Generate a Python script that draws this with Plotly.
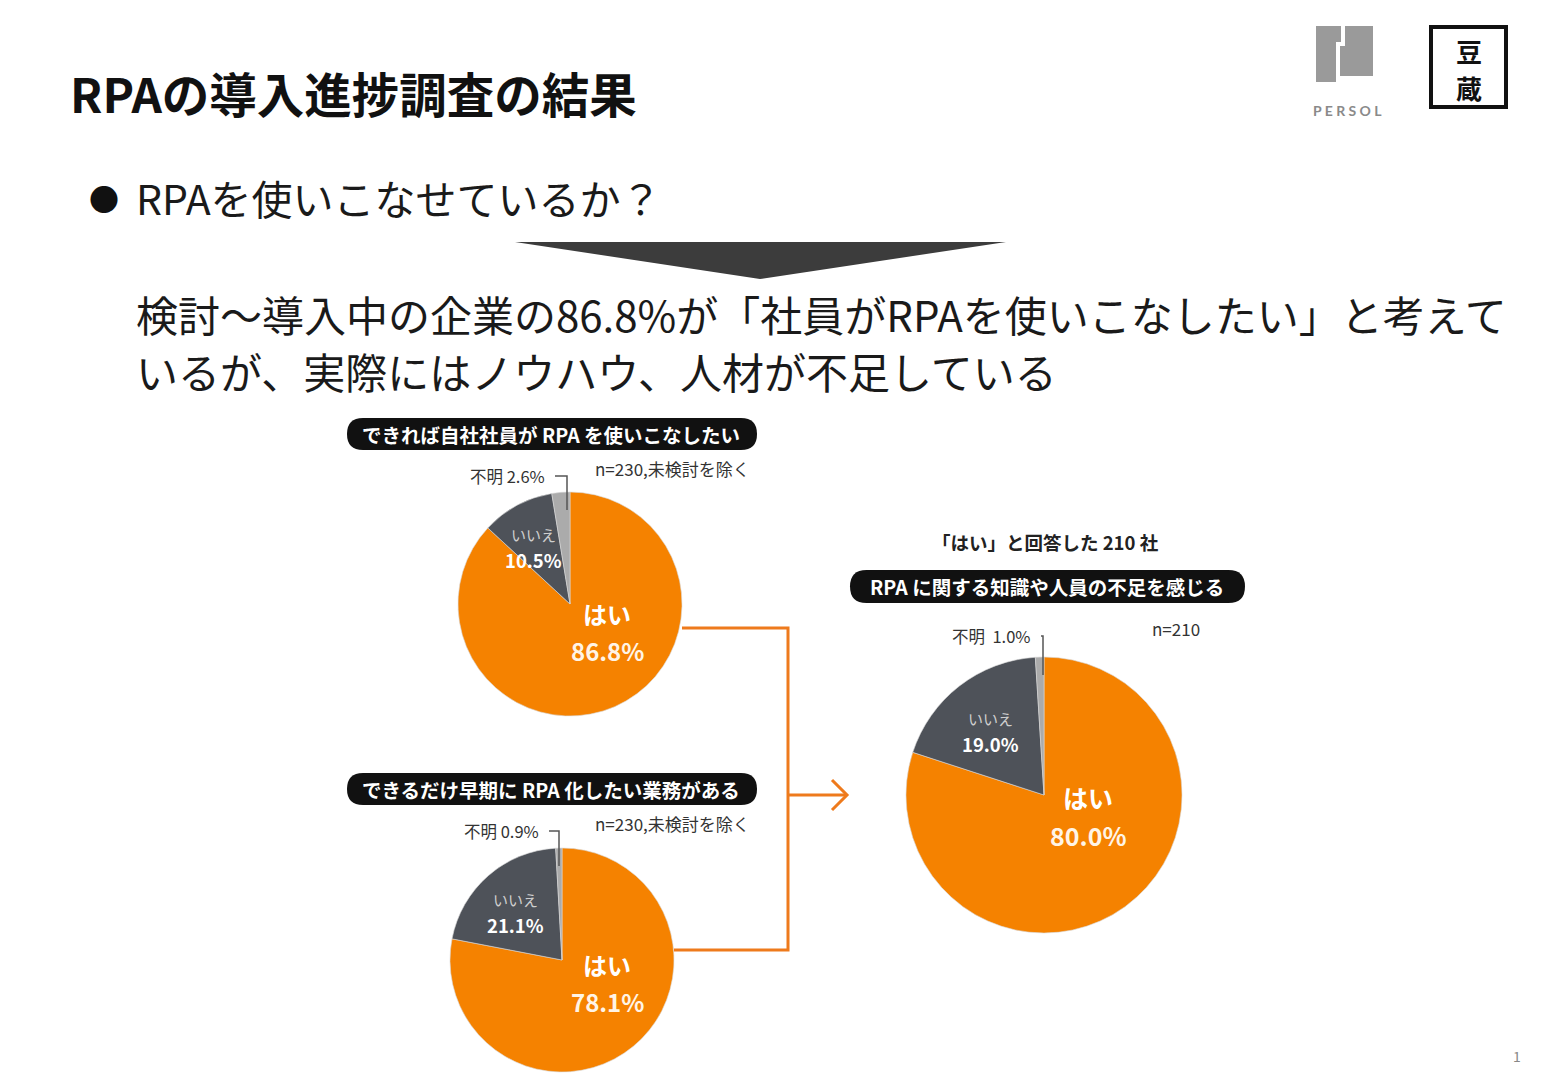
import plotly.graph_objects as go

W, H = 1562, 1080
OFF = 8  # page margin of the browser, so axis units equal screen pixels

# data
labels = ["はい", "いいえ", "不明"]
pie1_values = [86.8, 10.5, 2.6]
pie2_values = [78.1, 21.1, 0.9]
pie3_values = [80.0, 19.0, 1.0]
pie_colors = ["#F58200", "#4E5259", "#ABABAB"]

slide_title = "RPAの導入進捗調査の結果"
question = "RPAを使いこなせているか？"
answer_lines = ["検討〜導入中の企業の86.8%が「社員がRPAを使いこなしたい」と考えて",
                "いるが、実際にはノウハウ、人材が不足している"]
pill_texts = ["できれば自社社員が RPA を使いこなしたい",
              "できるだけ早期に RPA 化したい業務がある",
              "RPA に関する知識や人員の不足を感じる"]
sample_notes = ["n=230,未検討を除く", "n=230,未検討を除く", "n=210"]
subset_title = "「はい」と回答した 210 社"

FONT = "Noto Sans CJK JP"

# pie geometry in slide pixels: centre x, centre y, radius
pies = [(570, 604, 112), (562, 960, 112), (1044, 795, 138)]
values = [pie1_values, pie2_values, pie3_values]

fig = go.Figure()

for (cx, cy, r), vals in zip(pies, values):
    fig.add_trace(go.Pie(
        labels=labels, values=vals, sort=False, direction="clockwise", rotation=0,
        marker=dict(colors=pie_colors, line=dict(color="#d9d9d9", width=0.6)),
        textinfo="none", hoverinfo="label+percent", showlegend=False,
        domain=dict(x=[(cx - r - OFF) / W, (cx + r - OFF) / W],
                    y=[1 - (cy + r - OFF) / H, 1 - (cy - r - OFF) / H])))

shapes = []
annotations = []


def text(x, y, s, size, color="#1a1a1a", anchor="center", bold=False, family=FONT,
         vanchor="middle", pad=1):
    if bold:
        s = "<b>" + s + "</b>"
    annotations.append(dict(x=x, y=y, xref="x", yref="y", text=s, showarrow=False,
                            xanchor=anchor, yanchor=vanchor, borderpad=pad,
                            font=dict(family=family, size=size, color=color)))


def pill(x0, y0, x1, y1):
    r = (y1 - y0) / 2
    path = (f"M {x0 + r},{y0} L {x1 - r},{y0} Q {x1},{y0} {x1},{y0 + r} "
            f"Q {x1},{y1} {x1 - r},{y1} L {x0 + r},{y1} Q {x0},{y1} {x0},{y0 + r} "
            f"Q {x0},{y0} {x0 + r},{y0} Z")
    shapes.append(dict(type="path", path=path, xref="x", yref="y",
                       fillcolor="#111111", line=dict(width=0)))


def line_path(path, color, width):
    shapes.append(dict(type="path", path=path, xref="x", yref="y",
                       line=dict(color=color, width=width)))


# faint slide border
line_path("M 0,1 L 1556,1 L 1556,1080", "#e4e4e4", 1.5)

# header
text(68, 92, slide_title, 47.5, color="#111111", anchor="left", bold=True)

# PERSOL logo
shapes.append(dict(type="path", xref="x", yref="y", fillcolor="#9a9a9a", line=dict(width=0),
                   path="M 1316,26 L 1341,26 L 1341,42 L 1336,42 L 1336,82 L 1316,82 Z"))
shapes.append(dict(type="path", xref="x", yref="y", fillcolor="#9a9a9a", line=dict(width=0),
                   path="M 1345,26 L 1373,26 L 1373,76 L 1340,76 L 1340,46 L 1345,46 Z"))
text(1347, 110, "P E R S O L", 14, color="#8a8a8a", family="Lato", bold=True)

# 豆蔵 logo
shapes.append(dict(type="rect", xref="x", yref="y", x0=1431, y0=27, x1=1506, y1=107,
                   line=dict(color="#111111", width=4), fillcolor="white"))
text(1469, 50, "豆", 26, color="#111111", bold=True, pad=0)
text(1469, 87, "蔵", 26, color="#111111", bold=True, pad=0)

# question + answer
text(104, 198, "●", 30, color="#111111")
text(134, 197, question, 41, anchor="left")
shapes.append(dict(type="path", xref="x", yref="y", fillcolor="#3c3c3c", line=dict(width=0),
                   path="M 515,242 L 1006,242 L 760,279 Z"))
text(134, 313, answer_lines[0], 42, anchor="left")
text(134, 370, answer_lines[1], 42, anchor="left")

# pills and notes
pill(347, 418, 757, 450)
text(551, 434, pill_texts[0], 19.5, color="white", bold=True)
pill(347, 773, 757, 805)
text(551, 789, pill_texts[1], 19.5, color="white", bold=True)
pill(850, 570, 1245, 603)
text(1047, 586, pill_texts[2], 19.5, color="white", bold=True)
text(1045, 542, subset_title, 18.5, color="#222222", bold=True)

text(593, 468, sample_notes[0], 17, color="#333333", anchor="left")
text(593, 823, sample_notes[1], 17, color="#333333", anchor="left")
text(1150, 628, sample_notes[2], 17, color="#333333", anchor="left")

# 不明 call-outs with leader lines
unk_pos = [(547, 476), (541, 831), (1033, 636)]
for (cx, cy, r), vals, (lx, ly) in zip(pies, values, unk_pos):
    gap = "  " if vals is pie3_values else " "
    text(lx, ly, f"{labels[2]}{gap}{vals[2]:.1f}%", 16.5, color="#333333", anchor="right")
    xl = cx - 3 if vals is not pie3_values else cx - 1
    line_path(f"M {lx + 8},{ly} L {xl},{ly} L {xl},{cy - r + 18}", "#555555", 1.5)

# in-slice labels (label above / percentage below a split line)
no_pos = [(533, 546), (515, 911), (990, 730)]
yes_pos = [(607, 632), (607, 983), (1088, 816)]
yes_size = [24, 24, 25]
for vals, (nx, ny), (yx, yy), ys in zip(values, no_pos, yes_pos, yes_size):
    text(nx, ny, labels[1], 15, color="#cfcfcf", vanchor="bottom", pad=0)
    text(nx, ny, f"{vals[1]:.1f}%", 18.5, color="white", bold=True, vanchor="top", pad=0)
    text(yx, yy, labels[0], ys, color="white", bold=True, vanchor="bottom", pad=0)
    text(yx, yy, f"{vals[0]:.1f}%", ys, color="#fff4e6", bold=True, vanchor="top", pad=0)

# orange connectors and arrow
orange = "#EE7A1C"
line_path("M 682,628 L 788,628 L 788,950 L 674,950", orange, 3)
line_path("M 788,795 L 847,795", orange, 3)
line_path("M 832,780 L 847,795 L 832,810", orange, 3)

# page number
text(1517, 1056, "1", 14, color="#888888")

fig.update_layout(
    width=W, height=H, margin=dict(l=0, r=0, t=0, b=0),
    paper_bgcolor="white", plot_bgcolor="white",
    xaxis=dict(range=[OFF, W + OFF], visible=False, fixedrange=True),
    yaxis=dict(range=[H + OFF, OFF], visible=False, fixedrange=True),
    shapes=shapes, annotations=annotations,
)

fig.write_html("out.html")
